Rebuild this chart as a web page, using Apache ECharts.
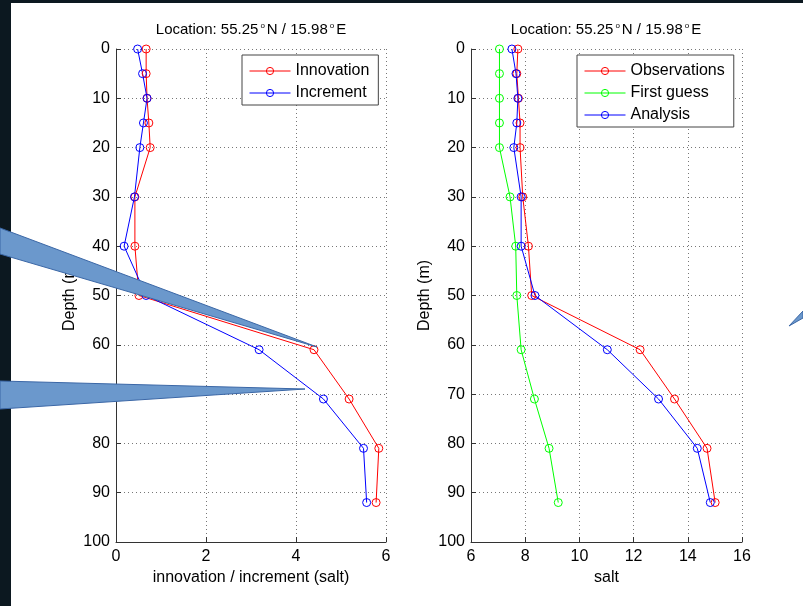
<!DOCTYPE html>
<html>
<head>
<meta charset="utf-8">
<script src="https://cdn.jsdelivr.net/npm/echarts@6/dist/echarts.min.js"></script>
<style>
html,body{margin:0;padding:0;background:#fff;}
#c{width:803px;height:606px;}
</style>
</head>
<body>
<div id="c"></div>
<script>
// ---- data ----
var depths = [0, 5, 10, 15, 20, 30, 40, 50, 61, 71, 81, 92];
var innovation = [0.67, 0.67, 0.69, 0.73, 0.76, 0.42, 0.42, 0.51, 4.40, 5.18, 5.84, 5.78];
var increment = [0.48, 0.59, 0.69, 0.61, 0.53, 0.41, 0.18, 0.67, 3.18, 4.61, 5.50, 5.57];
var observations = [7.73, 7.69, 7.75, 7.81, 7.81, 7.91, 8.12, 8.24, 12.24, 13.51, 14.71, 15.01];
var firstGuess = [7.05, 7.05, 7.05, 7.05, 7.05, 7.44, 7.65, 7.69, 7.85, 8.34, 8.88, 9.22];
var analysis = [7.51, 7.66, 7.73, 7.69, 7.58, 7.85, 7.85, 8.36, 11.03, 12.92, 14.35, 14.83];
var leftXTicks = {min: 0, max: 6, interval: 2};
var rightXTicks = {min: 6, max: 16, interval: 2};
var depthTicks = {min: 0, max: 100, interval: 10};
var leftNames = ['Innovation', 'Increment'];
var rightNames = ['Observations', 'First guess', 'Analysis'];
var titleText = 'Location: 55.25{d|o}N / 15.98{d|o}E';

var FONT = 'Liberation Sans, Arial, Helvetica, sans-serif';

function pairs(xs) { return xs.map(function (v, i) { return [v, depths[i]]; }); }

function mkX(grid, t, name) {
  return {
    gridIndex: grid, type: 'value', min: t.min, max: t.max, interval: t.interval,
    position: 'bottom',
    name: name, nameLocation: 'middle', nameGap: 26,
    nameTextStyle: {fontSize: 16, color: '#000', fontFamily: FONT},
    axisLine: {show: true, onZero: false, lineStyle: {color: '#333', width: 1}},
    axisTick: {show: true, inside: true, length: 5, lineStyle: {color: '#333'}},
    axisLabel: {fontSize: 16, color: '#000', margin: 7, fontFamily: FONT},
    splitLine: {show: true, lineStyle: {type: [1, 3], color: '#777', width: 1}}
  };
}
function mkY(grid) {
  return {
    gridIndex: grid, type: 'value', inverse: true,
    min: depthTicks.min, max: depthTicks.max, interval: depthTicks.interval,
    name: 'Depth (m)', nameLocation: 'middle', nameGap: 38, nameRotate: 90,
    nameTextStyle: {fontSize: 16, color: '#000', fontFamily: FONT},
    axisLine: {show: true, onZero: false, lineStyle: {color: '#333', width: 1}},
    axisTick: {show: true, inside: true, length: 5, lineStyle: {color: '#333'}},
    axisLabel: {fontSize: 16, color: '#000', margin: 6, fontFamily: FONT},
    splitLine: {show: true, lineStyle: {type: [1, 3], color: '#777', width: 1}}
  };
}
function mkS(name, vals, color, xi) {
  return {
    name: name, type: 'line', xAxisIndex: xi, yAxisIndex: xi,
    data: pairs(vals), symbol: 'circle', symbolSize: 8, clip: false,
    showAllSymbol: true,
    itemStyle: {color: 'rgba(0,0,0,0)', borderColor: color, borderWidth: 1},
    lineStyle: {color: color, width: 1},
    emphasis: {disabled: true}
  };
}
function mkLegend(names, left) {
  return {
    data: names, orient: 'vertical', left: left, top: 55,
    itemWidth: 41, itemHeight: 9, itemGap: 6,
    padding: [8, 9, 4, 7],
    backgroundColor: '#fff', borderColor: '#444', borderWidth: 1, borderRadius: 0,
    textStyle: {fontSize: 16, color: '#000', fontFamily: FONT},
    lineStyle: {width: 1},
    itemStyle: {borderWidth: 1},
    selectedMode: false
  };
}
function mkTitle(x) {
  return {
    type: 'text', x: x, y: 30, z: 10,
    style: {
      text: titleText, align: 'center', verticalAlign: 'middle',
      fontSize: 15, fill: '#000', fontFamily: FONT,
      rich: {d: {fontSize: 8, fill: '#000', fontFamily: FONT, padding: [0, 2, 9, 2]}}
    }
  };
}

var chart = echarts.init(document.getElementById('c'), null, {renderer: 'canvas'});
chart.setOption({
  animation: false,
  backgroundColor: '#fff',
  grid: [
    {left: 116, top: 49, width: 270, height: 493},
    {left: 471, top: 49, width: 271, height: 493}
  ],
  xAxis: [mkX(0, leftXTicks, 'innovation / increment (salt)'), mkX(1, rightXTicks, 'salt')],
  yAxis: [mkY(0), mkY(1)],
  legend: [mkLegend(leftNames, 242), mkLegend(rightNames, 577)],
  series: [
    mkS('Innovation', innovation, '#ff0000', 0),
    mkS('Increment', increment, '#0000ff', 0),
    mkS('Observations', observations, '#ff0000', 1),
    mkS('First guess', firstGuess, '#00ff00', 1),
    mkS('Analysis', analysis, '#0000ff', 1)
  ],
  graphic: [
    {type: 'rect', left: 0, top: 0, shape: {width: 11, height: 606}, style: {fill: '#0c1820'}, z: 100},
    {type: 'rect', left: 0, top: 0, shape: {width: 803, height: 3}, style: {fill: '#0c1820'}, z: 100},
    mkTitle(251),
    mkTitle(606),
    {type: 'polygon', z: 101, shape: {points: [[0, 228], [317, 347], [0, 254]]},
     style: {fill: '#6b98cc', stroke: '#3b67a6', lineWidth: 1}},
    {type: 'polygon', z: 101, shape: {points: [[0, 381], [305, 389], [0, 409]]},
     style: {fill: '#6b98cc', stroke: '#3b67a6', lineWidth: 1}},
    {type: 'polygon', z: 101, shape: {points: [[789, 326], [803, 311], [803, 318]]},
     style: {fill: '#6b98cc', stroke: '#3b67a6', lineWidth: 1}}
  ]
});
</script>
</body>
</html>
